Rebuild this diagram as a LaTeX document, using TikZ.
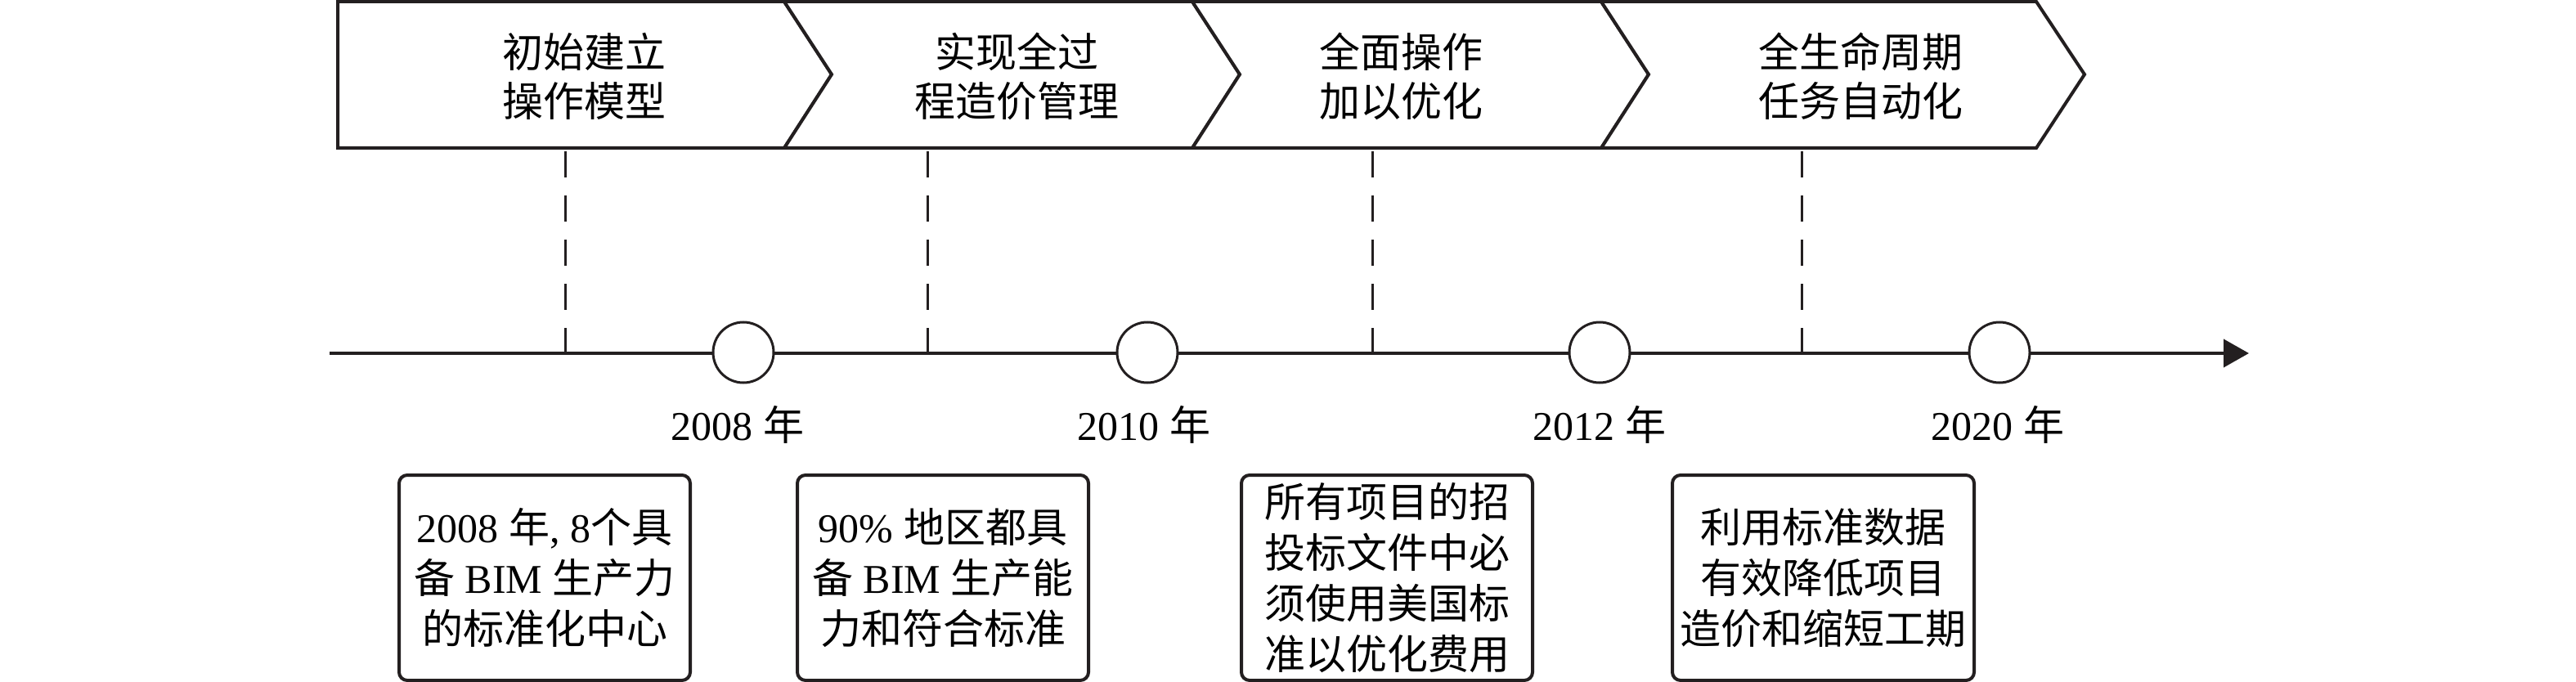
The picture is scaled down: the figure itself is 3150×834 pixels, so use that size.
\documentclass[tikz,border=0pt]{standalone}
\usepackage{fontspec}
\setmainfont{Liberation Serif}
\newfontfamily\cjkf{Noto Sans CJK SC}
\newcommand{\zhs}[1]{{\cjkf #1}}
\usetikzlibrary{arrows.meta}
\definecolor{lc}{HTML}{231F20}
\begin{document}
\begin{tikzpicture}[x=1pt,y=-1pt,
  chev/.style={draw=lc, line width=4pt, fill=white, line join=miter},
  dline/.style={draw=lc, line width=3pt, dash pattern=on 32pt off 22pt},
  circ/.style={circle, draw=lc, line width=3pt, fill=white, minimum size=74pt, inner sep=0pt},
  infobox/.style={draw=lc, line width=4pt, rounded corners=10pt, minimum width=356pt, minimum height=251pt, align=center, inner sep=0pt, font=\fontsize{50}{62}\selectfont},
  ctext/.style={align=center, inner sep=0pt, font=\fontsize{50}{60}\selectfont},
  year/.style={inner sep=0pt, font=\fontsize{50}{60}\selectfont}]
\useasboundingbox (0,0) rectangle (3150,834);
% chevrons
\draw[chev] (413,2) -- (959,2) -- (1017,91) -- (959,181) -- (413,181) -- cycle;
\draw[chev] (959,2) -- (1458,2) -- (1516,91) -- (1458,181) -- (959,181) -- (1017,91) -- cycle;
\draw[chev] (1458,2) -- (1958,2) -- (2016,91) -- (1958,181) -- (1458,181) -- (1516,91) -- cycle;
\draw[chev] (1958,2) -- (2490,2) -- (2549,91) -- (2490,181) -- (1958,181) -- (2016,91) -- cycle;
\node[ctext] (s1) at (714,93) {\zhs{初始建立}\\\zhs{操作模型}};
\node[ctext] (s2) at (1243,93) {\zhs{实现全过}\\\zhs{程造价管理}};
\node[ctext] (s3) at (1713,93) {\zhs{全面操作}\\\zhs{加以优化}};
\node[ctext] (s4) at (2275,93) {\zhs{全生命周期}\\\zhs{任务自动化}};
% dashed connectors
\coordinate (d1a) at (691,185); \coordinate (d1b) at (691,432);
\coordinate (d2a) at (1134,185); \coordinate (d2b) at (1134,432);
\coordinate (d3a) at (1678,185); \coordinate (d3b) at (1678,432);
\coordinate (d4a) at (2203,185); \coordinate (d4b) at (2203,432);
\draw[dline] (d1a) -- (d1b);
\draw[dline] (d2a) -- (d2b);
\draw[dline] (d3a) -- (d3b);
\draw[dline] (d4a) -- (d4b);
% timeline
\coordinate (tl0) at (403,432);
\coordinate (tl1) at (2750,432);
\draw[draw=lc, line width=4pt, -{Triangle[length=31pt,width=34pt]}] (tl0) -- (tl1);
\node[circ] (c1) at (909,431) {};
\node[circ] (c2) at (1403,431) {};
\node[circ] (c3) at (1956,431) {};
\node[circ] (c4) at (2445,431) {};
% years
\node[year] (y1) at (902,519) {2008 \zhs{年}};
\node[year] (y2) at (1399,519) {2010 \zhs{年}};
\node[year] (y3) at (1956,519) {2012 \zhs{年}};
\node[year] (y4) at (2443,519) {2020 \zhs{年}};
% boxes
\node[infobox] (b1) at (666,706.5) {2008 \zhs{年}, 8\zhs{个具}\\\zhs{备} BIM \zhs{生产力}\\\zhs{的标准化中心}};
\node[infobox] (b2) at (1153,706.5) {90\% \zhs{地区都具}\\\zhs{备} BIM \zhs{生产能}\\\zhs{力和符合标准}};
\node[infobox] (b3) at (1696,706.5) {\zhs{所有项目的招}\\\zhs{投标文件中必}\\\zhs{须使用美国标}\\\zhs{准以优化费用}};
\node[infobox, minimum width=369pt] (b4) at (2229.5,706.5) {\zhs{利用标准数据}\\\zhs{有效降低项目}\\\zhs{造价和缩短工期}};
\end{tikzpicture}
\end{document}
